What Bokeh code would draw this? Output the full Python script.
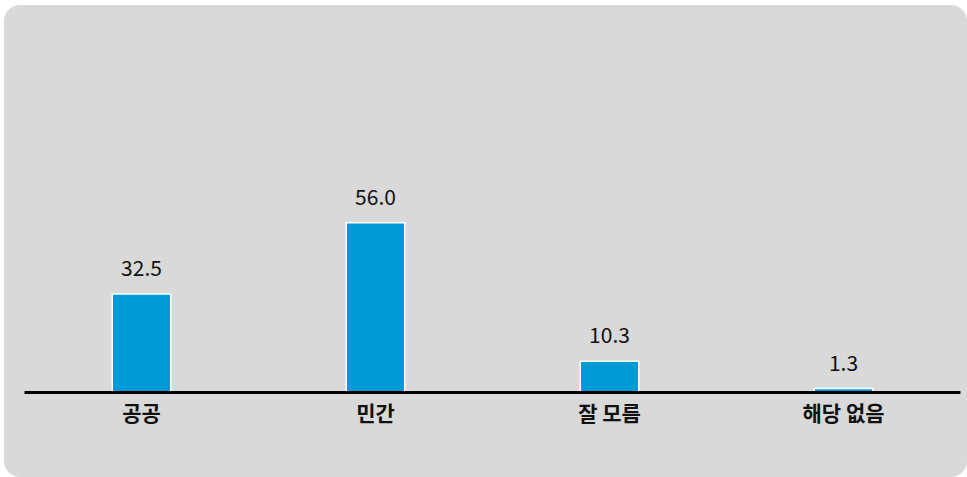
from bokeh.plotting import figure
from bokeh.models import ColumnDataSource, Range1d
from bokeh.core.properties import value
from bokeh.embed import file_html
from bokeh.resources import INLINE

categories = ["공공", "민간", "잘 모름", "해당 없음"]
values = [32.5, 56.0, 10.3, 1.3]
labels = ["32.5", "56.0", "10.3", "1.3"]

src = ColumnDataSource(dict(cat=categories, val=values, lab=labels))

p = figure(x_range=categories, y_range=Range1d(0, 120), width=963, height=472,
           output_backend="svg", toolbar_location=None,
           min_border_left=20, min_border_right=7, min_border_top=23, min_border_bottom=85)
p.background_fill_alpha = 0
p.border_fill_alpha = 0
p.outline_line_color = None
p.styles = {"border-radius": "16px", "overflow": "hidden", "background-color": "#d9d9d9",
            "margin-left": "4px", "margin-top": "5px"}
p.xgrid.visible = False
p.ygrid.visible = False
p.yaxis.visible = False
p.x_range.range_padding = 0

p.vbar(x="cat", top="val", width=0.25, source=src, fill_color="#009ad6",
       line_color="white", line_width=1.5)
p.text(x="cat", y="val", text="lab", source=src, y_offset=-26,
       text_align="center", text_baseline="alphabetic", text_font_size="21px",
       text_font=value("Noto Sans CJK KR"), text_color="#111111")

ax = p.xaxis[0]
ax.axis_line_color = "black"
ax.axis_line_width = 3
ax.major_tick_line_color = None
ax.minor_tick_line_color = None
ax.major_label_text_font = "Noto Sans CJK KR"
ax.major_label_text_font_style = "bold"
ax.major_label_text_font_size = "21px"
ax.major_label_text_color = "#111111"
ax.major_label_standoff = -2

open("out.html", "w").write(file_html(p, INLINE))
